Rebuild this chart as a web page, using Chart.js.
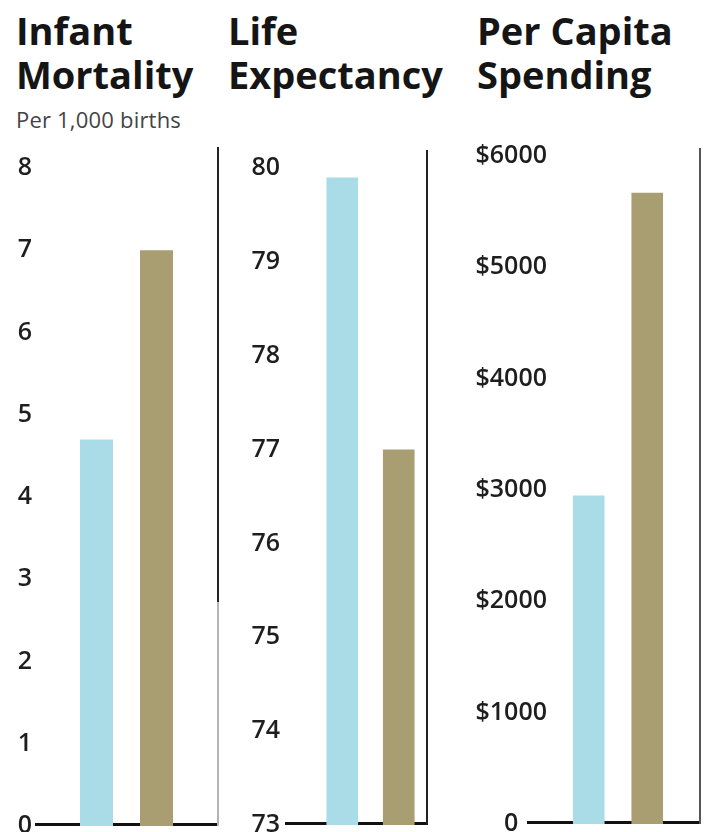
<!DOCTYPE html>
<html><head><meta charset="utf-8">
<script src="https://cdn.jsdelivr.net/npm/chart.js@4"></script>
<style>
html,body{margin:0;padding:0;background:#fff;width:704px;height:832px;overflow:hidden;}
.t{position:absolute;font-family:"Open Sans",sans-serif;font-weight:700;font-size:38px;line-height:44px;color:#151515;white-space:nowrap;}
.sub{position:absolute;font-family:"Open Sans",sans-serif;font-size:22px;letter-spacing:0.2px;line-height:24px;color:#444;white-space:nowrap;}
canvas{position:absolute;}
</style></head>
<body>
<div class="t" id="t0" style="left:16px;top:8px"></div>
<div class="t" id="t1" style="left:228px;top:8px"></div>
<div class="t" id="t2" style="left:477px;top:8px"></div>
<div class="sub" id="s0" style="left:16px;top:107px"></div>
<canvas id="c0" width="224" height="702" style="left:0px;top:130px"></canvas>
<canvas id="c1" width="210" height="702" style="left:222px;top:130px"></canvas>
<canvas id="c2" width="264" height="702" style="left:440px;top:130px"></canvas>
<script>
// ---- data ----
const panelTitles = [['Infant', 'Mortality'], ['Life', 'Expectancy'], ['Per Capita', 'Spending']];
const infantSubtitle = 'Per 1,000 births';
const seriesNames = ['Series 1', 'Series 2'];
const infantValues = [4.7, 7.0];
const lifeValues = [79.9, 77.0];
const spendingValues = [2950, 5670];
const infantTicks = ['0', '1', '2', '3', '4', '5', '6', '7', '8'];
const lifeTicks = ['73', '74', '75', '76', '77', '78', '79', '80'];
const spendingTicks = ['0', '$1000', '$2000', '$3000', '$4000', '$5000', '$6000'];

// ---- titles ----
panelTitles.forEach((lines, i) => {
  document.getElementById('t' + i).innerHTML = lines.join('<br>');
});
document.getElementById('s0').textContent = infantSubtitle;

const BLUE = '#a9dce6';
const OLIVE = '#a89e72';

const decor = {
  id: 'decor',
  beforeDatasetsDraw(chart, args, o) {
    const {ctx, chartArea: a} = chart;
    ctx.save();
    ctx.strokeStyle = '#111';
    ctx.lineWidth = 3;
    ctx.beginPath();
    ctx.moveTo(a.left - o.baseExtend, a.bottom - 1.5);
    ctx.lineTo(a.right + o.sepShift + 1, a.bottom - 1.5);
    ctx.stroke();
    ctx.restore();
  },
  afterDraw(chart, args, o) {
    const {ctx, chartArea: a} = chart;
    ctx.save();
    ctx.lineWidth = o.sepWidth;
    const x = a.right + o.sepShift;
    const top = a.top - o.sepAbove;
    const split = a.top + (a.bottom - a.top) * o.sepSplit;
    ctx.strokeStyle = o.sepColor;
    ctx.beginPath(); ctx.moveTo(x, top); ctx.lineTo(x, split); ctx.stroke();
    ctx.strokeStyle = o.sepLowColor;
    ctx.beginPath(); ctx.moveTo(x, split); ctx.lineTo(x, a.bottom); ctx.stroke();
    ctx.restore();
  }
};

function makePanel(id, values, ticks, min, max, step, cfg) {
  new Chart(document.getElementById(id), {
    type: 'bar',
    data: {
      labels: [''],
      datasets: [
        {label: seriesNames[0], data: [values[0]], backgroundColor: BLUE, barPercentage: cfg.bp, categoryPercentage: cfg.cp},
        {label: seriesNames[1], data: [values[1]], backgroundColor: OLIVE, barPercentage: cfg.bp, categoryPercentage: cfg.cp}
      ]
    },
    options: {
      responsive: false,
      animation: false,
      devicePixelRatio: 1,
      layout: {padding: {top: cfg.padTop, bottom: cfg.padBottom, left: 0, right: cfg.padRight}},
      plugins: {
        legend: {display: false},
        tooltip: {enabled: false},
        decor: cfg.decor
      },
      scales: {
        x: {display: false},
        y: {
          min: min, max: max,
          grid: {display: false, drawTicks: false},
          border: {display: false},
          ticks: {
            stepSize: step,
            autoSkip: false,
            crossAlign: 'center',
            padding: cfg.tickPad,
            color: '#1e1e1e',
            font: {family: 'Open Sans', size: 25, weight: '600'},
            callback: (v, i) => ticks[i]
          },
          afterFit: (s) => { s.width = cfg.axisWidth; s.paddingTop = 0; s.paddingBottom = 0; }
        }
      }
    },
    plugins: [decor]
  });
}

makePanel('c0', infantValues, infantTicks, 0, 8, 1, {
  bp: 0.55, cp: 0.656, padTop: 38, padBottom: 6, padRight: 6, axisWidth: 35, tickPad: 3,
  decor: {baseExtend: 0, sepShift: 0, sepAbove: 21, sepWidth: 2, sepColor: '#222', sepLowColor: '#b5b5b5', sepSplit: 0.66}
});
makePanel('c1', lifeValues, lifeTicks, 73, 80, 1, {
  bp: 0.56, cp: 1.0, padTop: 38, padBottom: 7, padRight: 5, axisWidth: 92, tickPad: 34,
  decor: {baseExtend: 29, sepShift: 0, sepAbove: 18, sepWidth: 2, sepColor: '#222', sepLowColor: '#222', sepSplit: 1}
});
makePanel('c2', spendingValues, spendingTicks, 0, 6000, 1000, {
  bp: 0.54, cp: 0.86, padTop: 26, padBottom: 8, padRight: 18, axisWidth: 110, tickPad: 3,
  decor: {baseExtend: 23, sepShift: 14, sepAbove: 8, sepWidth: 2, sepColor: '#555', sepLowColor: '#555', sepSplit: 1}
});
</script>
</body></html>
